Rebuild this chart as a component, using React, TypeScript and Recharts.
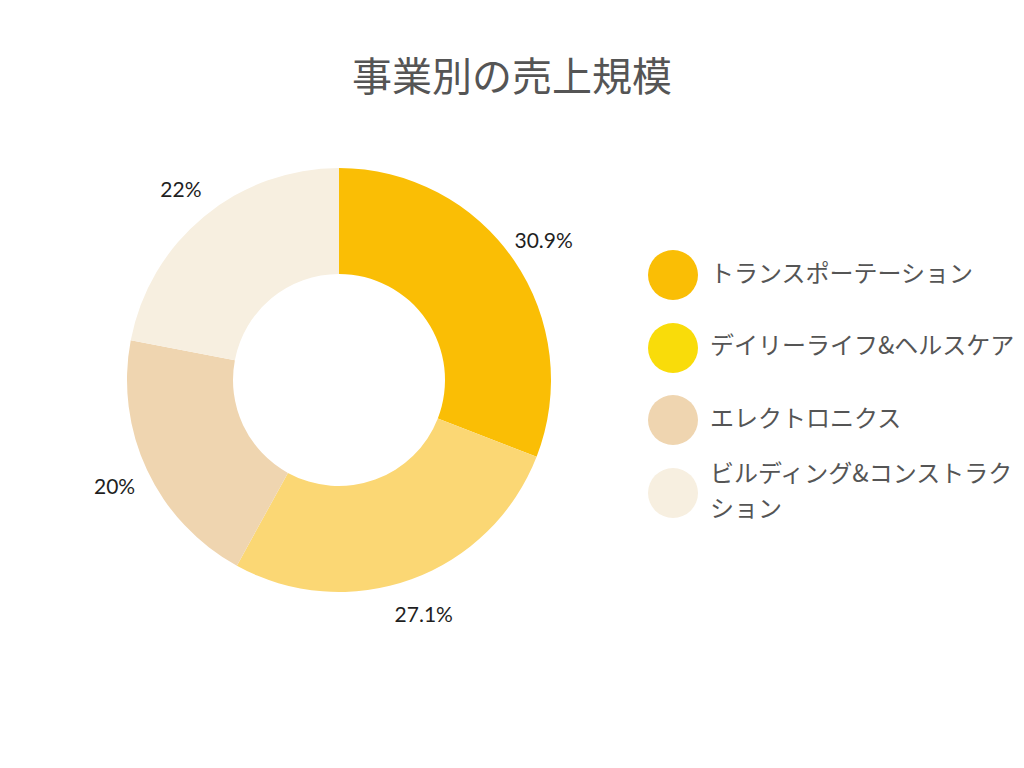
import { PieChart, Pie, Cell, Legend } from 'recharts';

// 事業別の売上規模 (%)
const segments = [
  'トランスポーテーション',
  'デイリーライフ&ヘルスケア',
  'エレクトロニクス',
  'ビルディング&コンストラクション',
];
const shares = [30.9, 27.1, 20, 22];
const sliceColors = ['#FABE05', '#FBD774', '#EFD5B0', '#F7EFE0'];
const legendColors = ['#FABE05', '#F9DC0A', '#EFD5B0', '#F7EFE0'];

const chartData = segments.map((name, i) => ({ name, value: shares[i] }));

const RADIAN = Math.PI / 180;
const LABEL_RADIUS = 248;

function renderLabel(props: any) {
  const { cx, cy, midAngle, value } = props;
  const x = cx + LABEL_RADIUS * Math.cos(-midAngle * RADIAN);
  const y = cy + LABEL_RADIUS * Math.sin(-midAngle * RADIAN);
  return (
    <text
      x={x}
      y={y}
      textAnchor="middle"
      dominantBaseline="central"
      fontSize={21}
      fontFamily="Lato, 'Open Sans', sans-serif"
      fill="#1f1f1f"
    >
      {`${value}%`}
    </text>
  );
}

function LegendList() {
  return (
    <div style={{ fontFamily: "'Noto Sans CJK JP', sans-serif" }}>
      {segments.map((name, i) => (
        <div
          key={name}
          style={{ display: 'flex', alignItems: 'center', height: 50, marginBottom: 22.5 }}
        >
          <div
            style={{
              width: 50,
              height: 50,
              borderRadius: '50%',
              background: legendColors[i],
              flexShrink: 0,
            }}
          />
          <div
            style={{
              marginLeft: 12,
              width: 312,
              fontSize: 24,
              lineHeight: '35px',
              color: '#555555',
              wordBreak: 'break-all',
              position: 'relative',
              top: -4,
            }}
          >
            {name}
          </div>
        </div>
      ))}
    </div>
  );
}

export default function App() {
  return (
    <div
      style={{
        position: 'fixed',
        left: 0,
        top: 0,
        width: 1024,
        height: 768,
        background: '#ffffff',
      }}
    >
      <div
        style={{
          position: 'absolute',
          top: 48,
          left: 0,
          width: 1024,
          textAlign: 'center',
          fontFamily: "'Noto Sans CJK JP', sans-serif",
          fontSize: 40,
          lineHeight: '52px',
          color: '#555555',
        }}
      >
        事業別の売上規模
      </div>
      <PieChart width={1024} height={768} margin={{ top: 0, right: 0, bottom: 0, left: 0 }}>
        <Pie
          data={chartData}
          dataKey="value"
          nameKey="name"
          cx={339}
          cy={380}
          innerRadius={106}
          outerRadius={212}
          startAngle={90}
          endAngle={-270}
          stroke="none"
          label={renderLabel}
          labelLine={false}
          isAnimationActive={false}
        >
          {chartData.map((d, i) => (
            <Cell key={d.name} fill={sliceColors[i]} />
          ))}
        </Pie>
        <Legend
          layout="vertical"
          align="right"
          verticalAlign="top"
          content={() => <LegendList />}
          wrapperStyle={{ left: 648, top: 250, width: 376, right: 'auto' }}
        />
      </PieChart>
    </div>
  );
}
